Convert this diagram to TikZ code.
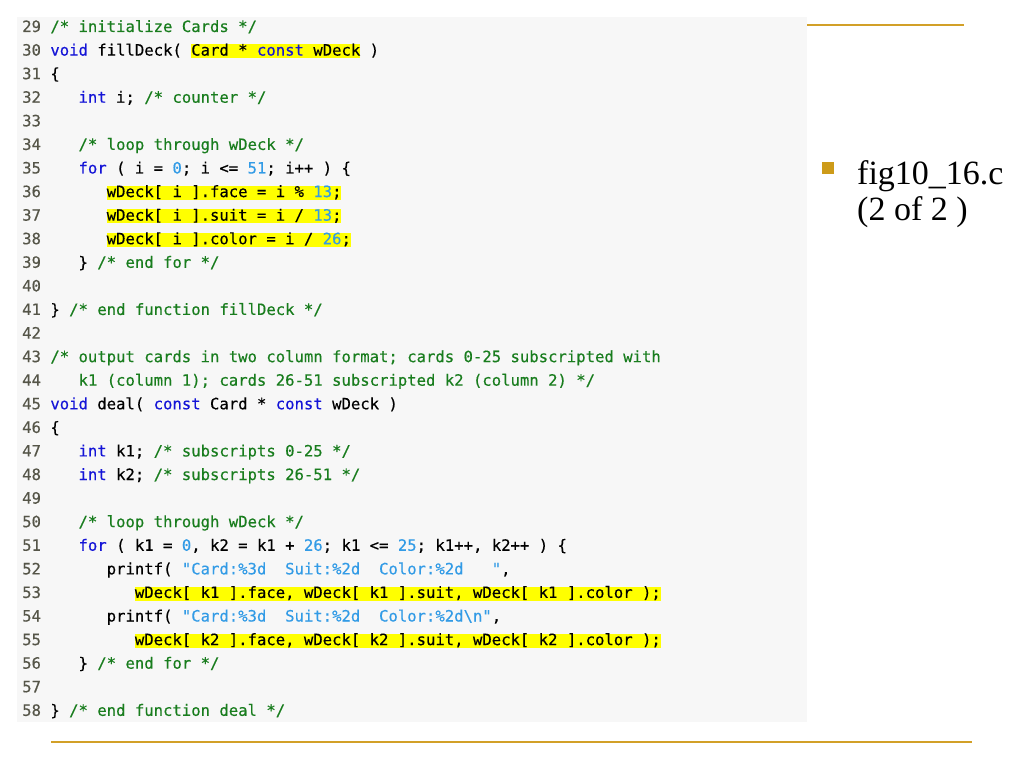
\documentclass[tikz,border=0pt]{standalone}
\usepackage{fontspec}
\setmainfont{Liberation Serif}
\newfontfamily\codefam{DejaVu Sans Mono}[FakeBold=0.35]
\definecolor{bgbox}{HTML}{F7F7F7}
\definecolor{gold}{RGB}{210,160,40}
\definecolor{bulletc}{RGB}{205,155,25}
\definecolor{kwc}{RGB}{20,20,215}
\definecolor{cmc}{RGB}{25,125,30}
\definecolor{nmc}{RGB}{50,155,230}
\definecolor{lnc}{RGB}{85,85,72}
\definecolor{hlc}{RGB}{255,255,0}
\newcommand\ckw[1]{\textcolor{kwc}{#1}}
\newcommand\ccm[1]{\textcolor{cmc}{#1}}
\newcommand\cnm[1]{\textcolor{nmc}{#1}}
\newcommand\cln[1]{\textcolor{lnc}{#1}}
\newcommand\lyb[1]{{-(32+(#1-29)*23.58)}}
\newcommand\cwid{9.392}
\newcommand\hlrange[3]{\fill[hlc] ({22+(3+#2)*\cwid},{-(32+(#1-29)*23.58)-2.7}) rectangle ({22+(3+#3)*\cwid},{-(32+(#1-29)*23.58)+11.3});}
\tikzset{
  codeline/.style={anchor=base west, inner sep=0pt, font={\codefam\fontsize{15.6pt}{23.6pt}\selectfont}},
  sidetext/.style={anchor=base west, inner sep=0pt, font={\fontsize{34pt}{36pt}\selectfont}},
  goldline/.style={draw=gold, line width=2.5pt}
}
\begin{document}
\begin{tikzpicture}[x=1pt,y=1pt]
\useasboundingbox (0,0) rectangle (1024,-768);
\fill[white] (0,0) rectangle (1024,-768);
% code box
\fill[bgbox] (17,-17) rectangle (807,-722);
% highlights
\hlrange{30}{15}{33}
\hlrange{36}{6}{31}
\hlrange{37}{6}{31}
\hlrange{38}{6}{32}
\hlrange{53}{9}{65}
\hlrange{55}{9}{65}
% code lines
\node[codeline] (l29) at (22,\lyb{29}) {\cln{29} \ccm{/* initialize Cards */}};
\node[codeline] (l30) at (22,\lyb{30}) {\cln{30} \ckw{void} fillDeck( Card * \ckw{const} wDeck )};
\node[codeline] (l31) at (22,\lyb{31}) {\cln{31} \{};
\node[codeline] (l32) at (22,\lyb{32}) {\cln{32}~~~~\ckw{int} i; \ccm{/* counter */}};
\node[codeline] (l33) at (22,\lyb{33}) {\cln{33}};
\node[codeline] (l34) at (22,\lyb{34}) {\cln{34}~~~~\ccm{/* loop through wDeck */}};
\node[codeline] (l35) at (22,\lyb{35}) {\cln{35}~~~~\ckw{for} ( i = \cnm{0}; i <= \cnm{51}; i++ ) \{};
\node[codeline] (l36) at (22,\lyb{36}) {\cln{36}~~~~~~~wDeck[ i ].face = i \% \cnm{13};};
\node[codeline] (l37) at (22,\lyb{37}) {\cln{37}~~~~~~~wDeck[ i ].suit = i / \cnm{13};};
\node[codeline] (l38) at (22,\lyb{38}) {\cln{38}~~~~~~~wDeck[ i ].color = i / \cnm{26};};
\node[codeline] (l39) at (22,\lyb{39}) {\cln{39}~~~~\} \ccm{/* end for */}};
\node[codeline] (l40) at (22,\lyb{40}) {\cln{40}};
\node[codeline] (l41) at (22,\lyb{41}) {\cln{41} \} \ccm{/* end function fillDeck */}};
\node[codeline] (l42) at (22,\lyb{42}) {\cln{42}};
\node[codeline] (l43) at (22,\lyb{43}) {\cln{43} \ccm{/* output cards in two column format; cards 0-25 subscripted with}};
\node[codeline] (l44) at (22,\lyb{44}) {\cln{44}~~~~\ccm{k1 (column 1); cards 26-51 subscripted k2 (column 2) */}};
\node[codeline] (l45) at (22,\lyb{45}) {\cln{45} \ckw{void} deal( \ckw{const} Card * \ckw{const} wDeck )};
\node[codeline] (l46) at (22,\lyb{46}) {\cln{46} \{};
\node[codeline] (l47) at (22,\lyb{47}) {\cln{47}~~~~\ckw{int} k1; \ccm{/* subscripts 0-25 */}};
\node[codeline] (l48) at (22,\lyb{48}) {\cln{48}~~~~\ckw{int} k2; \ccm{/* subscripts 26-51 */}};
\node[codeline] (l49) at (22,\lyb{49}) {\cln{49}};
\node[codeline] (l50) at (22,\lyb{50}) {\cln{50}~~~~\ccm{/* loop through wDeck */}};
\node[codeline] (l51) at (22,\lyb{51}) {\cln{51}~~~~\ckw{for} ( k1 = \cnm{0}, k2 = k1 + \cnm{26}; k1 <= \cnm{25}; k1++, k2++ ) \{};
\node[codeline] (l52) at (22,\lyb{52}) {\cln{52}~~~~~~~printf( \cnm{"Card:\%3d~~Suit:\%2d~~Color:\%2d~~~"},};
\node[codeline] (l53) at (22,\lyb{53}) {\cln{53}~~~~~~~~~~wDeck[ k1 ].face, wDeck[ k1 ].suit, wDeck[ k1 ].color );};
\node[codeline] (l54) at (22,\lyb{54}) {\cln{54}~~~~~~~printf( \cnm{"Card:\%3d~~Suit:\%2d~~Color:\%2d\textbackslash n"},};
\node[codeline] (l55) at (22,\lyb{55}) {\cln{55}~~~~~~~~~~wDeck[ k2 ].face, wDeck[ k2 ].suit, wDeck[ k2 ].color );};
\node[codeline] (l56) at (22,\lyb{56}) {\cln{56}~~~~\} \ccm{/* end for */}};
\node[codeline] (l57) at (22,\lyb{57}) {\cln{57}};
\node[codeline] (l58) at (22,\lyb{58}) {\cln{58} \} \ccm{/* end function deal */}};
% gold rules
\coordinate (ta) at (807,-25);
\coordinate (tb) at (964,-25);
\draw[goldline] (ta) -- (tb);
\coordinate (ba) at (51,-742);
\coordinate (bb) at (972,-742);
\draw[goldline] (ba) -- (bb);
% side caption
\fill[bulletc] (821.5,-162) rectangle (833.5,-173.5);
\node[sidetext] (cap1) at (857,-184) {fig10\_16.c};
\node[sidetext] (cap2) at (857,-220) {(2 of 2 )};
\end{tikzpicture}
\end{document}
